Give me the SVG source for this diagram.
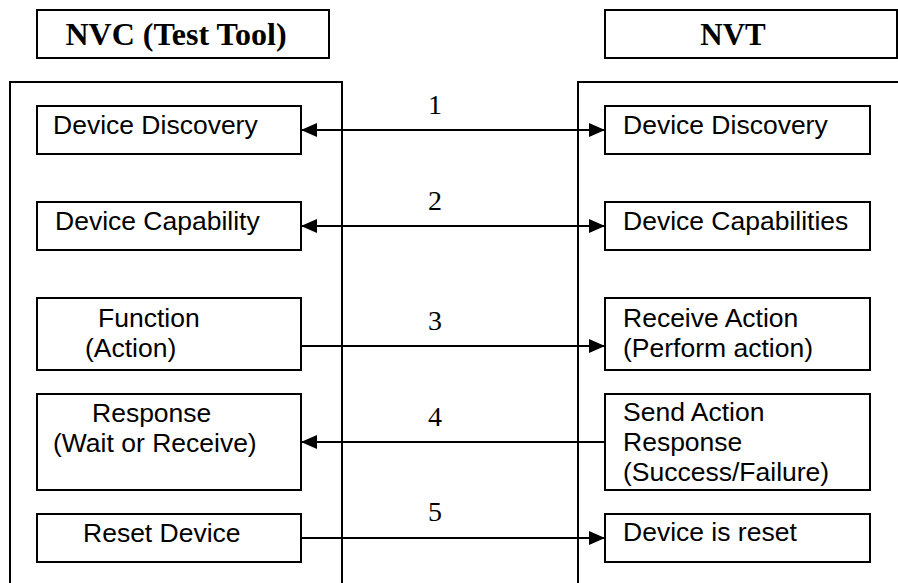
<svg xmlns="http://www.w3.org/2000/svg" width="898" height="583" viewBox="0 0 898 583">
<style>
.box{fill:#fff;stroke:#000;stroke-width:2}
.frame{fill:none;stroke:#000;stroke-width:2}
.t{font-family:"Liberation Sans",Arial,sans-serif;font-size:26.5px;fill:#000}
.h{font-family:"Liberation Serif","Times New Roman",serif;font-size:31px;font-weight:bold;fill:#000}
.n{font-family:"Liberation Serif","Times New Roman",serif;font-size:28px;fill:#000}
.c{stroke:#000;stroke-width:2;fill:none}
</style>
<defs>
<marker id="ah" markerUnits="userSpaceOnUse" markerWidth="16" markerHeight="16" viewBox="0 0 16 16" refX="16" refY="8" orient="auto-start-reverse">
<path d="M0,1 L16,8 L0,15 Z" fill="#000"/>
</marker>
</defs>
<rect width="898" height="583" fill="#fff"/>
<g id="hdr-nvc"><rect class="box" x="37" y="10" width="292" height="48"/><text class="h" x="176" y="45" text-anchor="middle" style="font-size:32px">NVC (Test Tool)</text></g>
<g id="hdr-nvt"><rect class="box" x="605" y="10" width="292" height="48"/><text class="h" x="733" y="45" text-anchor="middle">NVT</text></g>
<g id="frame-nvc"><path class="frame" d="M10,590 V82 H342 V590"/></g>
<g id="frame-nvt"><path class="frame" d="M578,590 V82 H900"/></g>
<g id="l1"><rect class="box" x="37" y="106" width="264" height="48"/><text class="t" x="53" y="134">Device Discovery</text></g>
<g id="l2"><rect class="box" x="37" y="202" width="264" height="48"/><text class="t" x="55" y="230">Device Capability</text></g>
<g id="l3"><rect class="box" x="37" y="298" width="264" height="72"/><text class="t" x="98" y="327">Function</text><text class="t" x="85" y="357">(Action)</text></g>
<g id="l4"><rect class="box" x="37" y="394" width="264" height="96"/><text class="t" x="92" y="422">Response</text><text class="t" x="53" y="452">(Wait or Receive)</text></g>
<g id="l5"><rect class="box" x="37" y="514" width="264" height="48"/><text class="t" x="83" y="542">Reset Device</text></g>
<g id="r1"><rect class="box" x="605" y="106" width="265" height="48"/><text class="t" x="623" y="134">Device Discovery</text></g>
<g id="r2"><rect class="box" x="605" y="202" width="265" height="48"/><text class="t" x="623" y="230">Device Capabilities</text></g>
<g id="r3"><rect class="box" x="605" y="298" width="265" height="72"/><text class="t" x="623" y="327">Receive Action</text><text class="t" x="623" y="357">(Perform action)</text></g>
<g id="r4"><rect class="box" x="605" y="394" width="265" height="96"/><text class="t" x="623" y="421">Send Action</text><text class="t" x="623" y="451">Response</text><text class="t" x="623" y="481">(Success/Failure)</text></g>
<g id="r5"><rect class="box" x="605" y="514" width="265" height="48"/><text class="t" x="623" y="541">Device is reset</text></g>
<g id="connectors">
<line class="c" x1="301" y1="130" x2="605" y2="130" marker-start="url(#ah)" marker-end="url(#ah)"/>
<line class="c" x1="301" y1="226" x2="605" y2="226" marker-start="url(#ah)" marker-end="url(#ah)"/>
<line class="c" x1="301" y1="346" x2="605" y2="346" marker-end="url(#ah)"/>
<line class="c" x1="605" y1="442" x2="301" y2="442" marker-end="url(#ah)"/>
<line class="c" x1="301" y1="538" x2="605" y2="538" marker-end="url(#ah)"/>
<text class="n" x="435" y="114" text-anchor="middle">1</text>
<text class="n" x="435" y="210" text-anchor="middle">2</text>
<text class="n" x="435" y="330" text-anchor="middle">3</text>
<text class="n" x="435" y="426" text-anchor="middle">4</text>
<text class="n" x="435" y="521" text-anchor="middle">5</text>
</g>
</svg>
